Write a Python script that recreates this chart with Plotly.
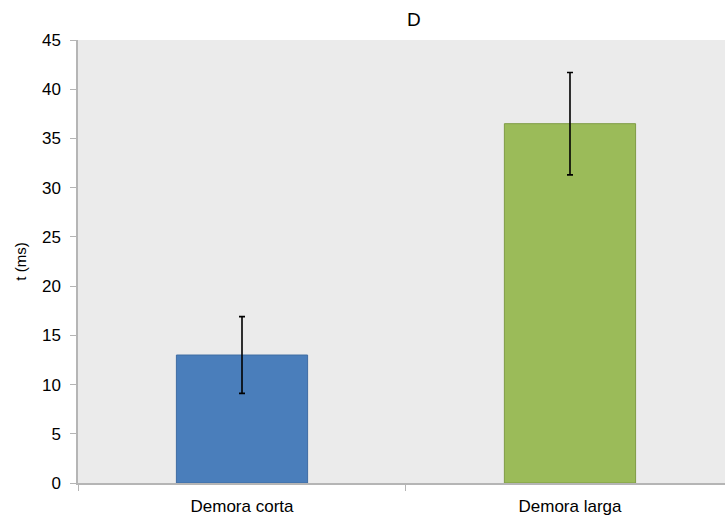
import plotly.graph_objects as go

# Mean response time per delay condition, with error bar half-widths
categories = ["Demora corta", "Demora larga"]
mean_ms = [13.0, 36.5]
err_ms = [3.9, 5.2]
fill_colors = ["#4a7ebb", "#9bbb59"]
edge_colors = ["#3f6ca3", "#7f9c45"]
y_ticks = [0, 5, 10, 15, 20, 25, 30, 35, 40, 45]

font_family = "Liberation Sans, Arial, sans-serif"

fig = go.Figure()
fig.add_trace(go.Bar(
    x=categories,
    y=mean_ms,
    width=0.4,
    marker=dict(color=fill_colors, line=dict(color=edge_colors, width=1)),
    error_y=dict(type="data", array=err_ms, visible=True,
                 color="#000000", thickness=1.6, width=3),
    showlegend=False,
))

fig.update_layout(
    width=725, height=517,
    margin=dict(l=78, r=0, t=40, b=34),
    paper_bgcolor="#ffffff",
    plot_bgcolor="#ebebeb",
    font=dict(family=font_family, size=16, color="#000000"),
    title=dict(text="D", x=0.571, xanchor="center", y=0.962, yanchor="middle",
               font=dict(family=font_family, size=19)),
    bargap=0.6,
)

fig.update_xaxes(
    type="category",
    range=[-0.5, 1.4726],
    automargin=False,
    showline=True, linecolor="#b5b5b5", linewidth=1.5,
    ticks="outside", tickson="boundaries", ticklen=6, tickcolor="#b5b5b5",
    ticklabelstandoff=7,
    showgrid=False, zeroline=False,
    tickfont=dict(size=17),
)

fig.update_yaxes(
    range=[0, 45],
    tickvals=y_ticks,
    showline=True, linecolor="#b5b5b5", linewidth=1.5,
    ticks="outside", ticklen=6, tickcolor="#b5b5b5",
    ticklabelstandoff=6,
    showgrid=False, zeroline=False,
    tickfont=dict(size=17),
    title=dict(text="t (ms)", font=dict(size=15), standoff=12),
)

fig.write_html("out.html")
